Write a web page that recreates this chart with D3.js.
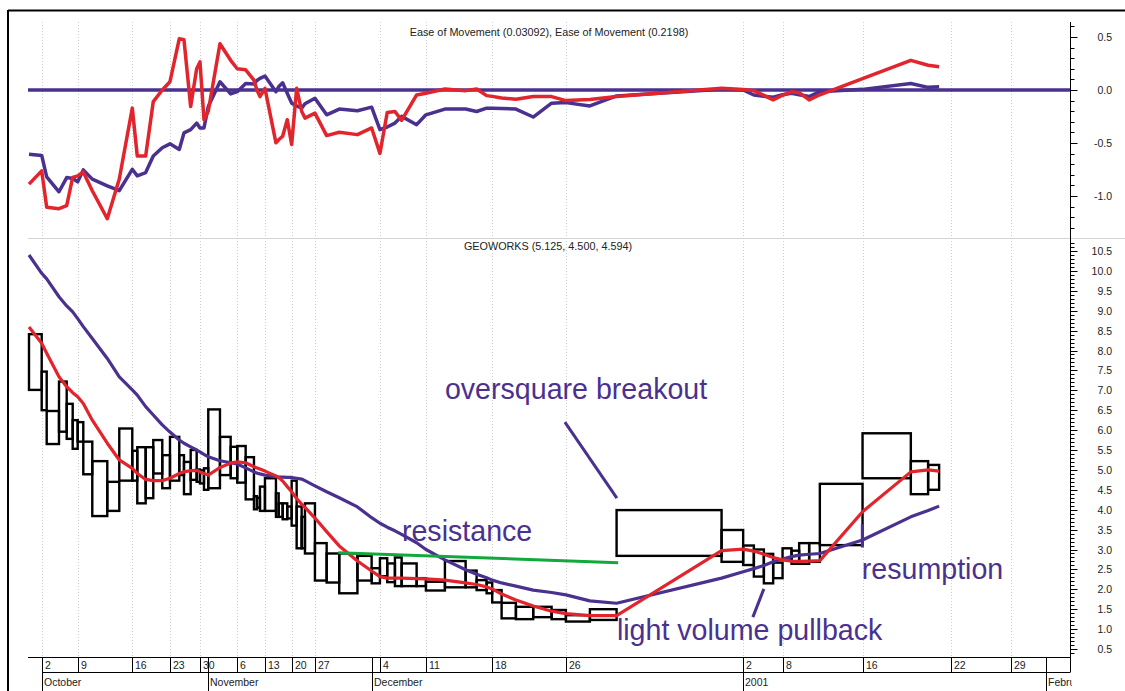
<!DOCTYPE html>
<html>
<head>
<meta charset="utf-8">
<script src="https://cdn.jsdelivr.net/npm/d3@7/dist/d3.min.js"></script>
<style>
    body { margin: 0; background: #fff; }
    svg { display: block; font-family: "Liberation Sans", Arial, sans-serif; }
</style>
</head>
<body>
<svg id="chart" width="1125" height="691"></svg>
<script>
/*global d3 */
"use strict";

// one box per trading day: date, high, low, volume (thousand shares)
var dates = ["2000-09-29",
    "2000-10-02", "2000-10-03", "2000-10-04", "2000-10-05", "2000-10-06",
    "2000-10-09", "2000-10-10", "2000-10-11", "2000-10-12", "2000-10-13",
    "2000-10-16", "2000-10-17", "2000-10-18", "2000-10-19", "2000-10-20",
    "2000-10-23", "2000-10-24", "2000-10-25", "2000-10-26", "2000-10-27",
    "2000-10-30", "2000-10-31", "2000-11-01", "2000-11-02", "2000-11-03",
    "2000-11-06", "2000-11-07", "2000-11-08", "2000-11-09", "2000-11-10",
    "2000-11-13", "2000-11-14", "2000-11-15", "2000-11-16", "2000-11-17",
    "2000-11-20", "2000-11-21", "2000-11-22", "2000-11-24",
    "2000-11-27", "2000-11-28", "2000-11-29", "2000-11-30", "2000-12-01",
    "2000-12-04", "2000-12-05", "2000-12-06", "2000-12-07", "2000-12-08",
    "2000-12-11", "2000-12-12", "2000-12-13", "2000-12-14", "2000-12-15",
    "2000-12-18", "2000-12-19", "2000-12-20", "2000-12-21", "2000-12-22",
    "2000-12-26", "2000-12-27", "2000-12-28", "2000-12-29",
    "2001-01-02", "2001-01-03", "2001-01-04", "2001-01-05",
    "2001-01-08", "2001-01-09", "2001-01-10", "2001-01-11", "2001-01-12",
    "2001-01-16", "2001-01-17", "2001-01-18"];

var highs = [8.41,
    7.47, 6.48, 7.22, 6.66, 6.25,
    6.20, 5.71, 5.22, 4.70, 6.04,
    5.48, 5.57, 5.57, 5.75, 5.37,
    5.83, 5.37, 5.20, 5.50, 5.01,
    4.99, 5.04, 6.52, 5.83, 5.58,
    5.60, 5.32, 4.34, 4.30, 4.58,
    4.79, 4.41, 4.16, 4.16, 4.08,
    4.73, 4.08, 3.82, 4.16,
    3.16, 2.90, 2.90, 2.84, 2.53,
    2.78, 2.65, 2.80, 2.65, 2.28,
    2.19, 2.71, 2.47, 2.23, 2.17,
    1.98, 1.66, 1.56, 1.56, 1.48,
    1.35, 1.50, 3.99, 3.49,
    3.10, 3.00, 2.89, 2.67,
    3.03, 2.97, 3.16, 3.16, 4.65,
    5.92, 5.22, 5.125];

var lows = [7.01,
    6.50, 5.65, 5.96, 5.78, 5.53,
    5.71, 4.89, 3.84, 3.97, 4.73,
    4.73, 4.16, 4.29, 4.91, 4.54,
    4.73, 4.87, 4.39, 4.75, 4.70,
    4.66, 4.50, 4.54, 4.87, 4.79,
    4.68, 4.26, 4.01, 4.05, 3.97,
    3.97, 3.82, 3.82, 3.76, 3.78,
    3.60, 3.03, 3.03, 2.90,
    2.22, 2.17, 1.90, 2.22, 2.15,
    2.33, 2.18, 2.08, 2.08, 2.08,
    1.97, 2.05, 2.05, 1.98, 1.90,
    1.67, 1.27, 1.25, 1.30, 1.25,
    1.19, 1.23, 2.84, 2.69,
    2.61, 2.32, 2.15, 2.28,
    2.74, 2.64, 2.64, 2.69, 3.11,
    4.79, 4.39, 4.50];

var volumes = [127,
    50, 123, 77, 60, 50,
    56, 90, 150, 120, 130,
    50, 84, 76, 90, 77,
    93, 47, 67, 60, 33,
    40, 43, 117, 107, 66,
    84, 83, 30, 30, 50,
    110, 27, 40, 46, 44,
    50, 50, 33, 100,
    117, 126, 182, 142, 83,
    73, 77, 67, 150, 93,
    190, 207, 110, 100, 56,
    94, 143, 173, 184, 143,
    240, 267, 1050, 216,
    107, 100, 93, 94,
    90, 76, 100, 107, 427,
    483, 173, 110];

var lastClose = 4.594;

// empty days after the last bar, each given the same width
var futureDates = ["2001-01-19",
    "2001-01-22", "2001-01-23", "2001-01-24", "2001-01-25", "2001-01-26",
    "2001-01-29", "2001-01-30", "2001-01-31", "2001-02-01", "2001-02-02"];
var futureVolume = 119;

// moving averages, read at every box edge (first edge .. last edge)
var maShort = [8.59, 8.18, 7.93, 7.34, 7.09, 6.94, 6.84, 6.67, 6.25, 5.67, 5.25,
    5.04, 4.91, 4.76, 4.73, 4.73, 4.79, 4.91, 4.95, 4.98, 4.99,
    4.95, 4.91, 4.87, 5.06, 5.17, 5.20, 5.18, 5.08, 5.05, 5.02,
    4.97, 4.85, 4.81, 4.72, 4.58, 4.45, 4.28, 4.14, 4.06, 3.79,
    3.45, 3.09, 2.71, 2.46, 2.32, 2.28, 2.28, 2.28, 2.27, 2.26,
    2.23, 2.16, 2.12, 2.06, 2.01, 1.88, 1.73, 1.58, 1.45, 1.39,
    1.34, 1.34, 2.97, 3.01, 2.96, 2.88, 2.80, 2.74, 2.71, 2.70,
    2.71, 2.72, 3.95, 4.95, 5.00, 4.97];

var maLong = [10.40, 9.94, 9.80, 9.35, 9.12, 8.97, 8.80, 8.60, 8.30, 7.80, 7.34,
    7.01, 6.88, 6.59, 6.38, 6.13, 5.95, 5.75, 5.67, 5.58, 5.50,
    5.45, 5.39, 5.33, 5.23, 5.18, 5.15, 5.05, 4.95, 4.92, 4.90,
    4.87, 4.83, 4.82, 4.82, 4.81, 4.81, 4.79, 4.77, 4.73, 4.60,
    4.45, 4.30, 4.07, 3.80, 3.66, 3.56, 3.47, 3.38, 3.17, 3.00,
    2.74, 2.49, 2.38, 2.29, 2.23, 2.16, 2.08, 1.98, 1.92, 1.86,
    1.71, 1.65, 2.28, 2.44, 2.52, 2.60, 2.69, 2.76, 2.82, 2.86,
    2.88, 2.90, 3.24, 3.82, 3.98, 4.09];

// ease of movement, same edges
var eomSlow = [-0.607, -0.617, -0.820, -0.960, -0.826, -0.835, -0.866, -0.754, -0.841, -0.905, -0.950,
    -0.748, -0.810, -0.779, -0.623, -0.545, -0.508, -0.561, -0.405, -0.374, -0.312,
    -0.358, -0.358, -0.156, 0.078, -0.037, -0.016, 0.062, 0.056, 0.090, 0.110,
    0.131, -0.016, 0.030, 0.068, -0.030, -0.124, -0.150, -0.171, -0.130, -0.078,
    -0.234, -0.180, -0.196, -0.162, -0.374, -0.349, -0.312, -0.249, -0.327, -0.234,
    -0.180, -0.180, -0.203, -0.171, -0.172, -0.175, -0.180, -0.255, -0.124, -0.119,
    -0.150, -0.056, 0.006, 0.000, -0.047, -0.060, -0.068, -0.045, -0.031, -0.045,
    -0.062, -0.016, 0.006, 0.062, 0.025, 0.03092];

var eomFast = [-0.888, -0.763, -1.106, -1.120, -1.090, -0.825, -0.810, -0.773, -0.950, -1.215, -0.840,
    -0.171, -0.623, -0.623, -0.109, 0.000, 0.078, 0.483, 0.474, -0.156, 0.200,
    0.265, -0.280, -0.200, 0.436, 0.280, 0.200, 0.190, 0.093, 0.000, -0.062,
    0.016, -0.498, -0.470, -0.436, -0.280, -0.514, 0.016, -0.200, -0.265, -0.218,
    -0.430, -0.399, -0.421, -0.358, -0.598, -0.212, -0.203, -0.287, -0.047, -0.030,
    0.009, -0.006, 0.009, -0.053, -0.060, -0.075, -0.087, -0.062, -0.062, -0.100,
    -0.090, -0.062, 0.016, 0.005, -0.006, -0.050, -0.093, -0.050, -0.016, -0.025,
    -0.093, -0.045, 0.107, 0.280, 0.234, 0.2198];

var monthNames = ["January", "February", "March", "April", "May", "June", "July",
    "August", "September", "October", "November", "December"];

// hand drawn notes: x in cumulative volume, y in price
var noteTexts = [
    {text: "oversquare breakout", x: 4160, y: 6.78},
    {text: "resistance", x: 3730, y: 3.21},
    {text: "resumption", x: 8330, y: 2.25},
    {text: "light volume pullback", x: 5880, y: 0.73}
];
var noteLines = [
    {x1: 5360, y1: 6.20, x2: 5880, y2: 4.29, color: "purple"},
    {x1: 8335, y1: 3.64, x2: 8335, y2: 3.05, color: "purple"},
    {x1: 7350, y1: 2.01, x2: 7240, y2: 1.30, color: "purple"},
    {x1: 3093, y1: 2.92, x2: 5893, y2: 2.67, color: "green"}
];

var PURPLE = "#4a3190", RED = "#e2242c", GREEN = "#12a83c";
var colors = {purple: PURPLE, green: GREEN};

var svg = d3.select("#chart");
var plotLeft = 29, plotRight = 1070;
var topPanel = {top: 22, bottom: 238};
var botPanel = {top: 240, bottom: 657};

var parse = d3.timeParse("%Y-%m-%d");
var edges = [0];
volumes.forEach(function(v) { edges.push(edges[edges.length - 1] + v); });
var allDates = dates.concat(futureDates).map(parse);
var allEdges = edges.slice();
futureDates.forEach(function() { allEdges.push(allEdges[allEdges.length - 1] + futureVolume); });

var x = d3.scaleLinear().domain([0, allEdges[allEdges.length - 1]]).range([plotLeft, plotRight]);
var yTop = d3.scaleLinear().domain([0, 0.5]).range([90, 37]);
var yBot = d3.scaleLinear().domain([0.5, 10.5]).range([649, 251]);

// frame
svg.append("line").attr("x1", 8).attr("x2", 1125).attr("y1", 10.5).attr("y2", 10.5)
    .attr("stroke", "#000").attr("stroke-width", 2);
svg.append("line").attr("x1", 8).attr("x2", 8).attr("y1", 10).attr("y2", 691)
    .attr("stroke", "#000").attr("stroke-width", 2);
svg.append("line").attr("x1", 28).attr("x2", 1125).attr("y1", 238.5).attr("y2", 238.5)
    .attr("stroke", "#d4d4d4").attr("stroke-width", 1);

// week starts and month starts
var weekTicks = [], monthTicks = [];
allDates.forEach(function(d, i) {
    if (i === 0) { return; }
    var prev = allDates[i - 1];
    if (d.getDay() <= prev.getDay() || (d - prev) > 4 * 864e5) {
        weekTicks.push({pos: allEdges[i], label: String(d.getDate())});
    }
    if (d.getMonth() !== prev.getMonth()) {
        var name = d.getMonth() === 0 ? String(d.getFullYear()) : monthNames[d.getMonth()];
        monthTicks.push({pos: allEdges[i], label: name});
    }
});

// grid
svg.append("g").selectAll("line").data(weekTicks).enter().append("line")
    .attr("x1", function(d) { return Math.round(x(d.pos)) + 0.5; })
    .attr("x2", function(d) { return Math.round(x(d.pos)) + 0.5; })
    .attr("y1", topPanel.top).attr("y2", botPanel.bottom)
    .attr("stroke", "#cfcfcf").attr("stroke-dasharray", "1,2");

// clip paths
var defs = svg.append("defs");
defs.append("clipPath").attr("id", "clipTop").append("rect")
    .attr("x", 20).attr("y", topPanel.top).attr("width", plotRight - 20).attr("height", topPanel.bottom - topPanel.top);
defs.append("clipPath").attr("id", "clipBot").append("rect")
    .attr("x", 20).attr("y", botPanel.top).attr("width", plotRight - 20).attr("height", botPanel.bottom - botPanel.top);
defs.append("clipPath").attr("id", "clipAxis").append("rect")
    .attr("x", 0).attr("y", 650).attr("width", plotRight + 1.8).attr("height", 41);

// ---- top panel: ease of movement
var gTop = svg.append("g").attr("clip-path", "url(#clipTop)");
gTop.append("line").attr("x1", plotLeft - 1).attr("x2", plotRight)
    .attr("y1", yTop(0)).attr("y2", yTop(0))
    .attr("stroke", PURPLE).attr("stroke-width", 3.5);

var lineTop = d3.line()
    .x(function(d, i) { return x(edges[i]); })
    .y(function(d) { return yTop(d); });
gTop.append("path").datum(eomSlow).attr("d", lineTop)
    .attr("fill", "none").attr("stroke", PURPLE).attr("stroke-width", 3.5).attr("stroke-linejoin", "round");
gTop.append("path").datum(eomFast).attr("d", lineTop)
    .attr("fill", "none").attr("stroke", RED).attr("stroke-width", 3.5).attr("stroke-linejoin", "round");

svg.append("text").attr("x", 549).attr("y", 36).attr("text-anchor", "middle")
    .attr("font-size", 10.8).attr("fill", "#222")
    .text("Ease of Movement (" + eomSlow[eomSlow.length - 1] + "), Ease of Movement (" + eomFast[eomFast.length - 1] + ")");

// ---- bottom panel: equivolume boxes
var gBot = svg.append("g").attr("clip-path", "url(#clipBot)");
gBot.selectAll("rect.box").data(volumes).enter().append("rect")
    .attr("class", "box")
    .attr("x", function(d, i) { return x(edges[i]); })
    .attr("width", function(d, i) { return x(edges[i + 1]) - x(edges[i]); })
    .attr("y", function(d, i) { return yBot(highs[i]); })
    .attr("height", function(d, i) { return yBot(lows[i]) - yBot(highs[i]); })
    .attr("fill", "none").attr("stroke", "#000").attr("stroke-width", 2.4);

var lineBot = d3.line()
    .x(function(d, i) { return x(edges[i]); })
    .y(function(d) { return yBot(d); });
gBot.append("path").datum(maLong).attr("d", lineBot)
    .attr("fill", "none").attr("stroke", PURPLE).attr("stroke-width", 3.2).attr("stroke-linejoin", "round");
gBot.append("path").datum(maShort).attr("d", lineBot)
    .attr("fill", "none").attr("stroke", RED).attr("stroke-width", 3.2).attr("stroke-linejoin", "round");

svg.append("text").attr("x", 548).attr("y", 250).attr("text-anchor", "middle")
    .attr("font-size", 10.8).attr("fill", "#222")
    .text("GEOWORKS (" + highs[highs.length - 1].toFixed(3) + ", " + lows[lows.length - 1].toFixed(3) + ", " + lastClose.toFixed(3) + ")");

// notes
gBot.selectAll("line.note").data(noteLines).enter().append("line")
    .attr("class", "note")
    .attr("x1", function(d) { return x(d.x1); }).attr("y1", function(d) { return yBot(d.y1); })
    .attr("x2", function(d) { return x(d.x2); }).attr("y2", function(d) { return yBot(d.y2); })
    .attr("stroke", function(d) { return colors[d.color]; }).attr("stroke-width", 3);
svg.selectAll("text.note").data(noteTexts).enter().append("text")
    .attr("class", "note")
    .attr("x", function(d) { return x(d.x); }).attr("y", function(d) { return yBot(d.y); })
    .attr("font-size", 28.6).attr("fill", PURPLE)
    .text(function(d) { return d.text; });

// ---- right axis
var axisX = plotRight + 0.5;
svg.append("line").attr("x1", axisX).attr("x2", axisX).attr("y1", topPanel.top).attr("y2", botPanel.bottom)
    .attr("stroke", "#000").attr("stroke-width", 1);

function drawTicks(scale, lo, hi, y0, y1) {
    var g = svg.append("g");
    var vals = d3.range(Math.round(lo * 10), Math.round(hi * 10) + 1).map(function(k) { return k / 10; })
        .filter(function(v) { var p = scale(v); return p >= y0 && p <= y1; });
    g.selectAll("line").data(vals).enter().append("line")
        .attr("x1", axisX).attr("y1", function(v) { return Math.round(scale(v)) + 0.5; })
        .attr("x2", function(v) { return axisX + (Math.abs(v * 2 - Math.round(v * 2)) < 1e-6 ? 7 : 4); })
        .attr("y2", function(v) { return Math.round(scale(v)) + 0.5; })
        .attr("stroke", "#000").attr("stroke-width", 1);
    var majors = vals.filter(function(v) { return Math.abs(v * 2 - Math.round(v * 2)) < 1e-6; });
    g.selectAll("text").data(majors).enter().append("text")
        .attr("x", 1112).attr("y", function(v) { return scale(v) + 4; })
        .attr("text-anchor", "end").attr("font-size", 10.5).attr("fill", "#222")
        .text(function(v) { return v.toFixed(1); });
}
drawTicks(yTop, -1.4, 0.7, topPanel.top + 1, topPanel.bottom - 1);
drawTicks(yBot, 0.3, 10.8, botPanel.top + 2, botPanel.bottom - 2);

// ---- bottom date axis
var gx = svg.append("g").attr("clip-path", "url(#clipAxis)");
gx.append("line").attr("x1", plotLeft - 1).attr("x2", axisX).attr("y1", 657.5).attr("y2", 657.5)
    .attr("stroke", "#000");
gx.append("line").attr("x1", Math.round(x(monthTicks[0].pos)) + 0.5).attr("x2", axisX).attr("y1", 672.5).attr("y2", 672.5)
    .attr("stroke", "#000");
gx.append("line").attr("x1", axisX).attr("x2", axisX).attr("y1", 657).attr("y2", 672).attr("stroke", "#000");

gx.selectAll("line.wk").data(weekTicks).enter().append("line")
    .attr("class", "wk")
    .attr("x1", function(d) { return Math.round(x(d.pos)) + 0.5; })
    .attr("x2", function(d) { return Math.round(x(d.pos)) + 0.5; })
    .attr("y1", 657).attr("y2", 672).attr("stroke", "#000");
gx.selectAll("text.wk").data(weekTicks).enter().append("text")
    .attr("class", "wk")
    .attr("x", function(d) { return Math.round(x(d.pos)) + 3; })
    .attr("y", 669).attr("font-size", 10.5).attr("fill", "#222")
    .text(function(d) { return d.label; });

gx.selectAll("line.mo").data(monthTicks).enter().append("line")
    .attr("class", "mo")
    .attr("x1", function(d) { return Math.round(x(d.pos)) + 0.5; })
    .attr("x2", function(d) { return Math.round(x(d.pos)) + 0.5; })
    .attr("y1", 657).attr("y2", 691).attr("stroke", "#000");
gx.selectAll("text.mo").data(monthTicks).enter().append("text")
    .attr("class", "mo")
    .attr("x", function(d) { return Math.round(x(d.pos)) + 2; })
    .attr("y", 686).attr("font-size", 10.5).attr("fill", "#222")
    .text(function(d) { return d.label; });
</script>
</body>
</html>
